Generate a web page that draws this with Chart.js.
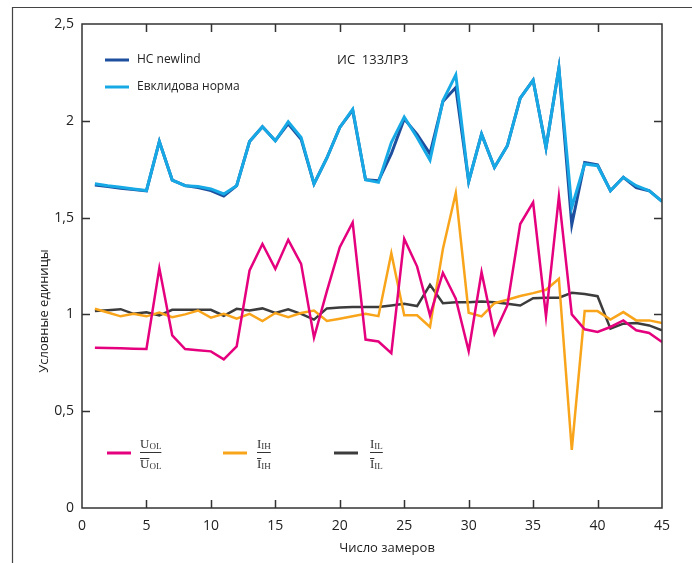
<!DOCTYPE html>
<html>
<head>
<meta charset="utf-8">
<script src="https://cdn.jsdelivr.net/npm/chart.js@4"></script>
<style>
  html, body { margin: 0; padding: 0; background: #fff; }
  #wrap { width: 692px; height: 563px; position: relative; }
</style>
</head>
<body>
<div id="wrap"><canvas id="chart"></canvas></div>
<script>
// measurement numbers (x axis)
const samples = [1, 2, 3, 4, 5, 6, 7, 8, 9, 10, 11, 12, 13, 14, 15, 16, 17, 18, 19, 20,
  21, 22, 23, 24, 25, 26, 27, 28, 29, 30, 31, 32, 33, 34, 35, 36, 37, 38, 39, 40,
  41, 42, 43, 44, 45];

const euclid = [1.675, 1.665, 1.657, 1.648, 1.640, 1.893, 1.694, 1.665, 1.661, 1.648,
  1.622, 1.665, 1.893, 1.969, 1.897, 1.995, 1.914, 1.674, 1.808, 1.966,
  2.060, 1.696, 1.682, 1.888, 2.020, 1.914, 1.797, 2.103, 2.237, 1.687,
  1.931, 1.759, 1.871, 2.117, 2.210, 1.862, 2.272, 1.553, 1.777, 1.768,
  1.639, 1.708, 1.665, 1.639, 1.584];

const newlind = [1.668, 1.660, 1.652, 1.645, 1.638, 1.893, 1.694, 1.665, 1.655, 1.640,
  1.612, 1.665, 1.893, 1.969, 1.897, 1.985, 1.905, 1.674, 1.808, 1.966,
  2.055, 1.696, 1.690, 1.830, 2.010, 1.930, 1.830, 2.100, 2.172, 1.687,
  1.931, 1.759, 1.871, 2.117, 2.210, 1.862, 2.272, 1.464, 1.785, 1.772,
  1.639, 1.708, 1.655, 1.639, 1.584];

const uOL = [0.828, 0.826, 0.825, 0.823, 0.821, 1.239, 0.892, 0.821, 0.815, 0.809,
  0.768, 0.835, 1.227, 1.364, 1.235, 1.385, 1.261, 0.880, 1.120, 1.347,
  1.475, 0.870, 0.860, 0.800, 1.390, 1.247, 0.995, 1.215, 1.081, 0.811,
  1.218, 0.900, 1.046, 1.467, 1.579, 0.990, 1.608, 1.000, 0.923, 0.909,
  0.935, 0.969, 0.918, 0.904, 0.857];

const iIH = [1.029, 1.010, 0.990, 1.003, 0.990, 1.010, 0.986, 1.000, 1.020, 0.983,
  1.003, 0.978, 1.003, 0.966, 1.007, 0.986, 1.007, 1.020, 0.966, 0.978,
  0.990, 1.003, 0.991, 1.316, 0.995, 0.995, 0.935, 1.338, 1.627, 1.009,
  0.990, 1.058, 1.076, 1.095, 1.110, 1.127, 1.184, 0.300, 1.017, 1.017,
  0.973, 1.012, 0.969, 0.969, 0.955];

const iIL = [1.017, 1.022, 1.027, 1.003, 1.011, 0.995, 1.024, 1.024, 1.024, 1.024,
  0.993, 1.029, 1.020, 1.031, 1.007, 1.026, 1.003, 0.973, 1.031, 1.036,
  1.038, 1.038, 1.038, 1.046, 1.055, 1.043, 1.153, 1.058, 1.063, 1.063,
  1.066, 1.063, 1.055, 1.046, 1.084, 1.086, 1.086, 1.112, 1.105, 1.094,
  0.926, 0.952, 0.955, 0.943, 0.918];

const xTicks = [0, 5, 10, 15, 20, 25, 30, 35, 40, 45];
const yTicks = [0, 0.5, 1, 1.5, 2, 2.5];

const C_DARK = '#1d4f9e';
const C_LIGHT = '#17a9e5';
const C_PINK = '#e5007d';
const C_ORANGE = '#f9a51b';
const C_GRAY = '#3c3c3c';
const AXIS = '#333';

const pts = vals => vals.map((v, i) => ({x: samples[i], y: v}));

const line = (label, vals, color, width, order) => ({
  label, data: pts(vals), borderColor: color, borderWidth: width,
  pointRadius: 0, fill: false, tension: 0, order,
  borderJoinStyle: 'miter'
});

function fraction(ctx, x, mid, main, sub) {
  ctx.fillStyle = '#333';
  ctx.textBaseline = 'alphabetic';
  ctx.textAlign = 'left';
  ctx.font = '13px "Liberation Serif"';
  const w = ctx.measureText(main).width;
  ctx.fillText(main, x, mid - 4);
  ctx.fillText(main, x, mid + 16);
  ctx.font = '9px "Liberation Serif"';
  const ws = ctx.measureText(sub).width;
  ctx.fillText(sub, x + w, mid - 3);
  ctx.fillText(sub, x + w, mid + 17);
  ctx.strokeStyle = '#333';
  ctx.lineWidth = 1;
  ctx.beginPath();
  ctx.moveTo(x, mid + 0.5); ctx.lineTo(x + w + ws, mid + 0.5);
  ctx.moveTo(x, mid + 6.5); ctx.lineTo(x + w, mid + 6.5);
  ctx.stroke();
}

const decor = {
  id: 'decor',
  beforeDraw(chart) {
    const ctx = chart.ctx;
    ctx.save();
    ctx.fillStyle = '#fff';
    ctx.fillRect(0, 0, chart.width, chart.height);
    ctx.restore();
  },
  afterDraw(chart) {
    const {ctx, chartArea: a, scales: {x, y}} = chart;
    ctx.save();
    // outer frame
    ctx.strokeStyle = '#444';
    ctx.lineWidth = 1.2;
    ctx.beginPath();
    ctx.moveTo(12.5, chart.height);
    ctx.lineTo(12.5, 7.5);
    ctx.lineTo(chart.width, 7.5);
    ctx.stroke();

    // plot box
    ctx.strokeStyle = AXIS;
    ctx.lineWidth = 1.5;
    ctx.strokeRect(a.left, a.top, a.right - a.left, a.bottom - a.top);

    // inward ticks
    const tl = 8;
    ctx.beginPath();
    xTicks.slice(1, -1).forEach(v => {
      const px = Math.round(x.getPixelForValue(v)) + 0.5;
      ctx.moveTo(px, a.bottom); ctx.lineTo(px, a.bottom - tl);
      ctx.moveTo(px, a.top); ctx.lineTo(px, a.top + tl);
    });
    yTicks.slice(1, -1).forEach(v => {
      const py = Math.round(y.getPixelForValue(v)) + 0.5;
      ctx.moveTo(a.left, py); ctx.lineTo(a.left + tl, py);
      ctx.moveTo(a.right, py); ctx.lineTo(a.right - tl, py);
    });
    ctx.stroke();

    // top legend
    ctx.lineWidth = 3;
    ctx.strokeStyle = C_DARK;
    ctx.beginPath(); ctx.moveTo(105, 60); ctx.lineTo(129, 60); ctx.stroke();
    ctx.strokeStyle = C_LIGHT;
    ctx.beginPath(); ctx.moveTo(105, 87); ctx.lineTo(129, 87); ctx.stroke();
    ctx.fillStyle = '#222';
    ctx.font = '12px "Open Sans"';
    ctx.textBaseline = 'middle';
    ctx.textAlign = 'left';
    ctx.fillText('НС newlind', 137, 60);
    ctx.fillText('Евклидова норма', 137, 87);
    ctx.font = '13px "Open Sans"';
    ctx.fillText('ИС  133ЛР3', 337, 60);

    // bottom legend
    ctx.lineWidth = 3;
    [[107, C_PINK, 140, 'U', 'OL'], [223, C_ORANGE, 257, 'I', 'IH'], [334, C_GRAY, 370, 'I', 'IL']]
      .forEach(([lx, col, fx, m, s]) => {
        ctx.strokeStyle = col;
        ctx.lineWidth = 3;
        ctx.beginPath(); ctx.moveTo(lx, 453); ctx.lineTo(lx + 24, 453); ctx.stroke();
        fraction(ctx, fx, 452, m, s);
      });

    // axis titles
    ctx.fillStyle = '#222';
    ctx.font = '13px "Open Sans"';
    ctx.textAlign = 'center';
    ctx.textBaseline = 'middle';
    ctx.fillText('Число замеров', 387, 548);
    ctx.translate(44, 311);
    ctx.rotate(-Math.PI / 2);
    ctx.fillText('Условные единицы', 0, 0);
    ctx.restore();
  }
};

new Chart(document.getElementById('chart'), {
  type: 'line',
  data: {
    datasets: [
      line('Евклидова норма', euclid, C_LIGHT, 3, 1),
      line('НС newlind', newlind, C_DARK, 3, 2),
      line('UOL', uOL, C_PINK, 2.5, 3),
      line('IIH', iIH, C_ORANGE, 2.5, 4),
      line('IIL', iIL, C_GRAY, 2.5, 5)
    ]
  },
  options: {
    responsive: true,
    maintainAspectRatio: false,
    animation: false,
    layout: { padding: { top: 24, right: 30, left: 0, bottom: 0 } },
    plugins: { legend: { display: false }, tooltip: { enabled: false } },
    scales: {
      x: {
        type: 'linear', min: 0, max: 45,
        afterBuildTicks: s => { s.ticks = xTicks.map(v => ({value: v})); },
        afterFit: s => { s.height = 55; },
        grid: { display: false, drawTicks: false },
        border: { display: false },
        ticks: { padding: 10, color: '#222', font: { family: 'Open Sans', size: 14 }, maxRotation: 0 }
      },
      y: {
        type: 'linear', min: 0, max: 2.5,
        afterBuildTicks: s => { s.ticks = yTicks.map(v => ({value: v})); },
        afterFit: s => { s.width = 82; },
        grid: { display: false, drawTicks: false },
        border: { display: false },
        ticks: {
          padding: 8, color: '#222', font: { family: 'Open Sans', size: 14 },
          callback: v => String(v).replace('.', ',')
        }
      }
    }
  },
  plugins: [decor]
});
</script>
</body>
</html>
